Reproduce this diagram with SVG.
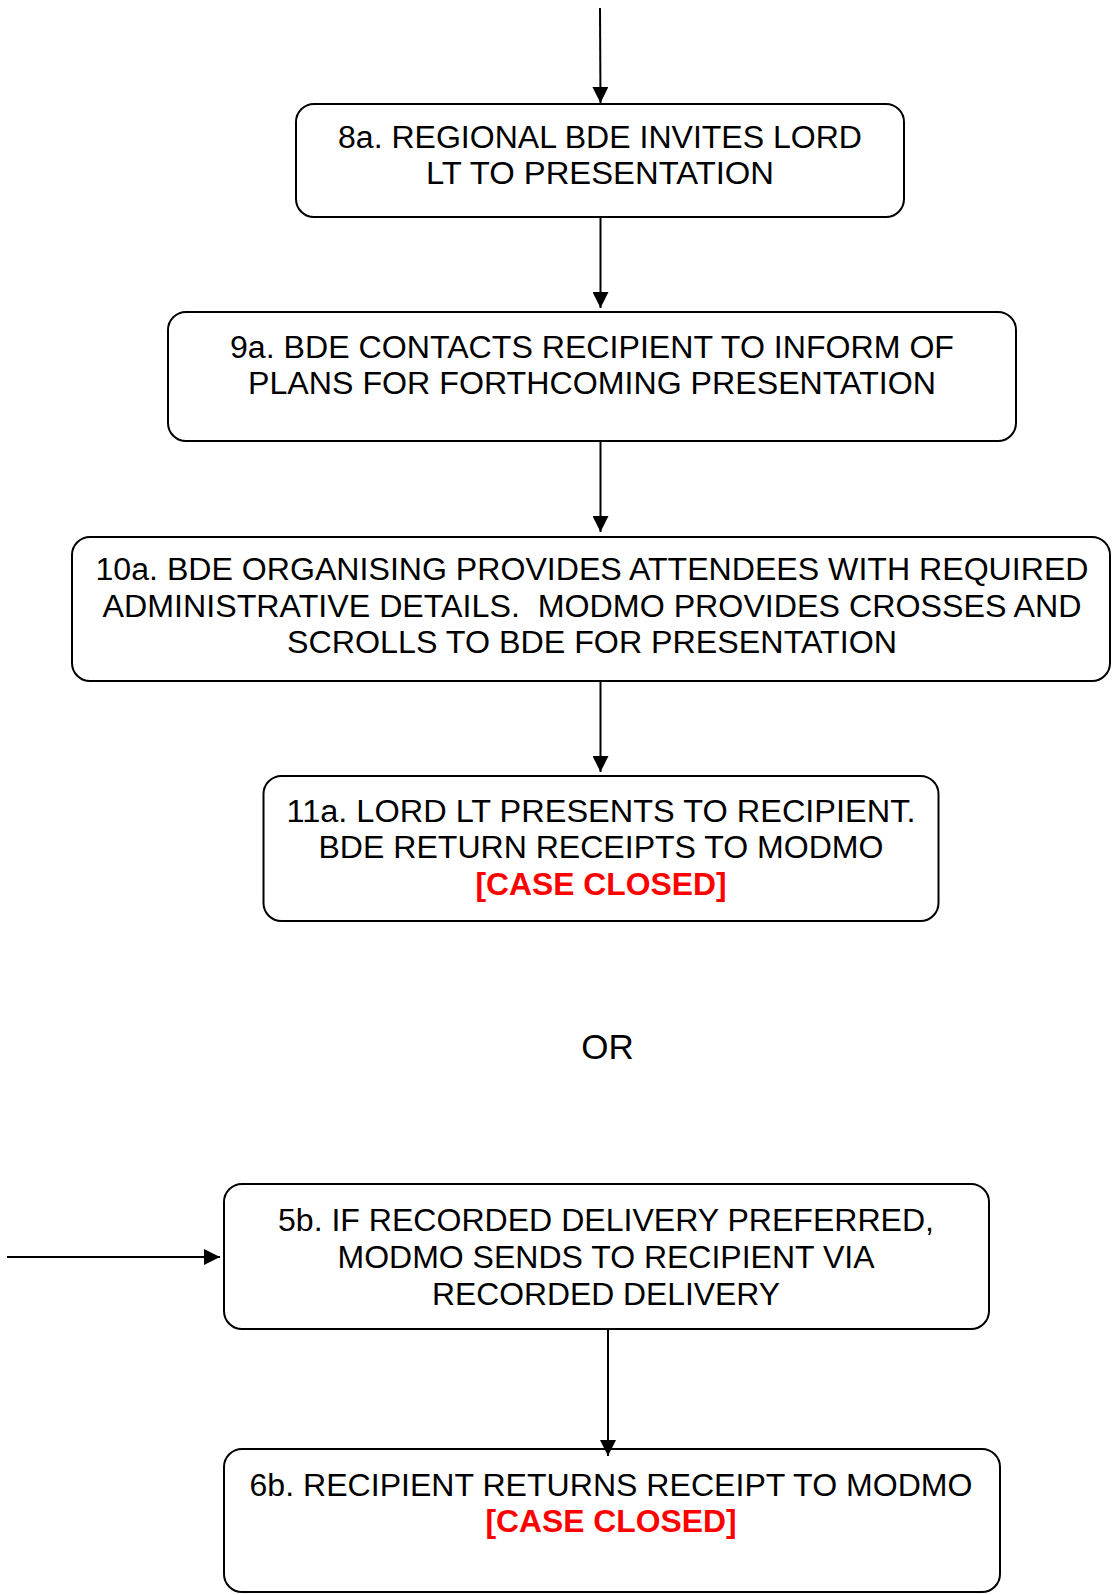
<svg xmlns="http://www.w3.org/2000/svg" width="1112" height="1595" viewBox="0 0 1112 1595">
<style>
.box{fill:#fff;stroke:#000;stroke-width:2}
.t{font-family:"Liberation Sans",Arial,sans-serif;font-size:31px;fill:#000;text-anchor:middle}
.r{fill:#ff0000;font-weight:bold}
.c{stroke:#000;stroke-width:2;fill:none}
</style>
<defs>
<marker id="ah" viewBox="0 0 16 16" refX="16" refY="8" markerWidth="16" markerHeight="16" markerUnits="userSpaceOnUse" orient="auto">
<path d="M0,0 L16,8 L0,16 z" fill="#000"/>
</marker>
</defs>
<rect width="1112" height="1595" fill="#fff"/>
<g id="n8a">
<rect class="box" x="296" y="104" width="608" height="113" rx="18"/>
<text class="t" x="600" y="148" textLength="524" lengthAdjust="spacingAndGlyphs">8a. REGIONAL BDE INVITES LORD</text>
<text class="t" x="600" y="184" textLength="348" lengthAdjust="spacingAndGlyphs">LT TO PRESENTATION</text>
</g>
<g id="n9a">
<rect class="box" x="168" y="312" width="848" height="129" rx="18"/>
<text class="t" x="592" y="358" textLength="724" lengthAdjust="spacingAndGlyphs">9a. BDE CONTACTS RECIPIENT TO INFORM OF</text>
<text class="t" x="592" y="394" textLength="688" lengthAdjust="spacingAndGlyphs">PLANS FOR FORTHCOMING PRESENTATION</text>
</g>
<g id="n10a">
<rect class="box" x="72" y="537" width="1038" height="144" rx="18"/>
<text class="t" x="592" y="580" textLength="993" lengthAdjust="spacingAndGlyphs">10a. BDE ORGANISING PROVIDES ATTENDEES WITH REQUIRED</text>
<text class="t" x="592" y="616.5" textLength="979" lengthAdjust="spacingAndGlyphs" xml:space="preserve">ADMINISTRATIVE DETAILS.  MODMO PROVIDES CROSSES AND</text>
<text class="t" x="592" y="653" textLength="610" lengthAdjust="spacingAndGlyphs">SCROLLS TO BDE FOR PRESENTATION</text>
</g>
<g id="n11a">
<rect class="box" x="263.5" y="776" width="675" height="145" rx="18"/>
<text class="t" x="601" y="822" textLength="629" lengthAdjust="spacingAndGlyphs">11a. LORD LT PRESENTS TO RECIPIENT.</text>
<text class="t" x="601" y="858" textLength="565" lengthAdjust="spacingAndGlyphs">BDE RETURN RECEIPTS TO MODMO</text>
<text class="t r" x="601" y="895" textLength="251" lengthAdjust="spacingAndGlyphs">[CASE CLOSED]</text>
</g>
<g id="or">
<text class="t" x="607.5" y="1059" style="font-size:35px">OR</text>
</g>
<g id="n5b">
<rect class="box" x="224" y="1184" width="765" height="145" rx="18"/>
<text class="t" x="606" y="1231" textLength="656" lengthAdjust="spacingAndGlyphs">5b. IF RECORDED DELIVERY PREFERRED,</text>
<text class="t" x="606" y="1268" textLength="537" lengthAdjust="spacingAndGlyphs">MODMO SENDS TO RECIPIENT VIA</text>
<text class="t" x="606" y="1305" textLength="348" lengthAdjust="spacingAndGlyphs">RECORDED DELIVERY</text>
</g>
<g id="n6b">
<rect class="box" x="224" y="1449" width="776" height="143" rx="18"/>
<text class="t" x="611" y="1495.5" textLength="723" lengthAdjust="spacingAndGlyphs">6b. RECIPIENT RETURNS RECEIPT TO MODMO</text>
<text class="t r" x="611" y="1532" textLength="251" lengthAdjust="spacingAndGlyphs">[CASE CLOSED]</text>
</g>
<g id="connectors">
<line class="c" x1="600" y1="8" x2="600.5" y2="103" marker-end="url(#ah)"/>
<line class="c" x1="600.5" y1="217" x2="600.5" y2="308" marker-end="url(#ah)"/>
<line class="c" x1="600.5" y1="441" x2="600.5" y2="532" marker-end="url(#ah)"/>
<line class="c" x1="600.5" y1="681" x2="600.5" y2="772" marker-end="url(#ah)"/>
<line class="c" x1="7" y1="1257" x2="220" y2="1257" marker-end="url(#ah)"/>
<line class="c" x1="608" y1="1329" x2="608" y2="1456" marker-end="url(#ah)"/>
</g>
</svg>
